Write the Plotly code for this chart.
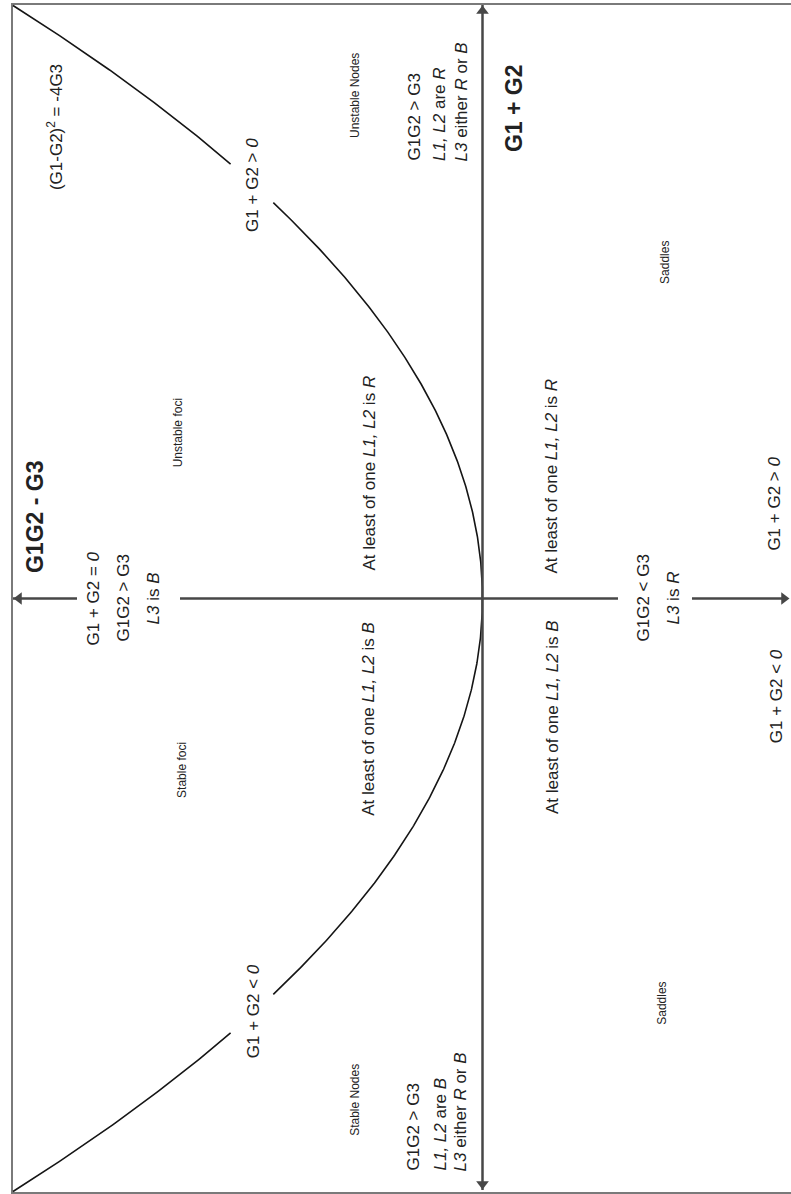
import numpy as np
import plotly.graph_objects as go

# Trace axis (G1 + G2) and the stability boundary (G1-G2)^2 = -4G3,
# i.e. (G1 + G2)^2 = 4 (G1G2 - G3)
trace_vals = np.linspace(-2.0, 2.0, 801)
det_vals = trace_vals ** 2 / 4.0

# stretches of the boundary left open for the "G1 + G2 > 0" / "< 0" labels
label_gaps = [(1.336, 1.462), (-1.462, -1.336)]

det_plot = det_vals.copy()
for lo, hi in label_gaps:
    det_plot[(trace_vals > lo) & (trace_vals < hi)] = np.nan

DET_RANGE = [1.0277, -0.6571]   # G1G2 - G3 grows towards the left
TR_RANGE = [-2.0084, 2.0185]    # G1 + G2 grows upwards

FONT = "Arial, Liberation Sans, sans-serif"
TXT = "#222222"
AXC = "#474747"

fig = go.Figure()

# axis lines: G1 + G2 (vertical) and G1G2 - G3 (horizontal, broken by text)
fig.add_shape(type="line", xref="x", yref="y", x0=0, x1=0,
              y0=2.0017, y1=-1.995, line=dict(color=AXC, width=2.5))
for x0, x1 in [(1.0, 0.8637), (0.6443, -0.2886), (-0.4462, -0.6450)]:
    fig.add_shape(type="line", xref="x", yref="y", x0=x0, x1=x1,
                  y0=0, y1=0, line=dict(color=AXC, width=2.5))

# arrow heads at the axis ends
fig.add_trace(go.Scatter(
    x=[0, 0, 0.9872, -0.6422], y=[1.9815, -1.9747, 0, 0], mode="markers",
    marker=dict(symbol=["triangle-up", "triangle-down", "triangle-left", "triangle-right"],
                size=11, color=AXC, line=dict(width=0)),
    hoverinfo="skip", showlegend=False,
))

fig.add_trace(go.Scatter(
    x=det_plot, y=trace_vals, mode="lines",
    line=dict(color="#151515", width=1.6),
    hoverinfo="skip", showlegend=False, connectgaps=False,
))

fig.update_layout(
    width=791, height=1194,
    margin=dict(l=0, r=0, t=0, b=0),
    paper_bgcolor="white", plot_bgcolor="white",
    xaxis=dict(range=DET_RANGE, visible=False, fixedrange=True),
    yaxis=dict(range=TR_RANGE, visible=False, fixedrange=True),
)

# outer frame
fig.add_shape(type="rect", xref="paper", yref="paper",
              x0=12 / 791, x1=1.02, y0=1 - 1193 / 1194, y1=1 - 4 / 1194,
              line=dict(color="#7a7a7a", width=2), layer="below")


def label(text, det, tr, size=17, yanchor="middle", bold=False):
    fig.add_annotation(
        x=det, y=tr, xref="x", yref="y", text=f"<b>{text}</b>" if bold else text,
        showarrow=False, textangle=-90, xanchor="center", yanchor=yanchor,
        align="left", font=dict(family=FONT, size=size, color=TXT),
    )


# axis titles
label("G1G2 - G3", 0.953, 0.275, size=23, bold=True)
label("G1 + G2", -0.067, 1.654, size=23, bold=True)

# boundary equation
label("(G1-G2)<sup>2</sup> = -4G3", 0.9105, 1.590)

# labels on the boundary
label("G1 + G2 &gt; <i>0</i>", 0.4888, 1.395)
label("G1 + G2 &lt; <i>0</i>", 0.4888, -1.392)

# region names
label("Unstable Nodes", 0.2716, 1.698, size=12)
label("Unstable foci", 0.648, 0.558, size=12)
label("Stable foci", 0.640, -0.578, size=12)
label("Stable Nodes", 0.2716, -1.691, size=12)
label("Saddles", -0.3887, 1.135, size=12)
label("Saddles", -0.382, -1.364, size=12)

# eigenvalue descriptions either side of the trace axis
label("At least of one <i>L1, L2</i> is <i>R</i>", 0.2417, 0.086, yanchor="bottom")
label("At least of one <i>L1, L2</i> is <i>R</i>", -0.148, 0.079, yanchor="bottom")
label("At least of one <i>L1, L2</i> is <i>B</i>", 0.2417, -0.072, yanchor="top")
label("At least of one <i>L1, L2</i> is <i>B</i>", -0.148, -0.066, yanchor="top")

# node regions
label("G1G2 &gt; G3", 0.1459, 1.4688, yanchor="bottom")
label("<i>L1, L2</i> are <i>R</i>", 0.0905, 1.4688, yanchor="bottom")
label("<i>L3</i> either <i>R</i> or <i>B</i>", 0.0458, 1.4688, yanchor="bottom")

label("G1G2 &gt; G3", 0.1459, -1.9376, yanchor="bottom")
label("<i>L1, L2</i> are <i>B</i>", 0.0905, -1.9376, yanchor="bottom")
label("<i>L3</i> either <i>R</i> or <i>B</i>", 0.0458, -1.9376, yanchor="bottom")

# on the G1G2 - G3 axis
label("G1 + G2 = <i>0</i>", 0.8296, 0.0)
label("G1G2 &gt; G3", 0.7657, 0.0)
label("<i>L3</i> is <i>B</i>", 0.7018, 0.0)

label("G1G2 &lt; G3", -0.3419, 0.0)
label("<i>L3</i> is <i>R</i>", -0.4058, 0.0)

# sign of the trace on the saddle side
label("G1 + G2 &gt; <i>0</i>", -0.623, 0.32)
label("G1 + G2 &lt; <i>0</i>", -0.625, -0.33)

fig.write_html("out.html")
